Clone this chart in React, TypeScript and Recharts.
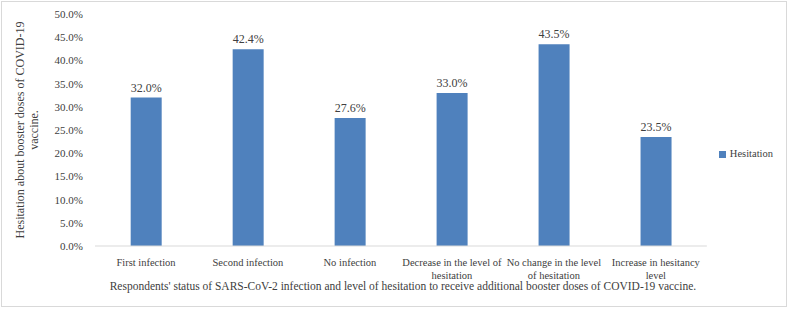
import React from 'react'
import { BarChart, Bar, XAxis, YAxis, Legend, LabelList } from 'recharts'

const categories = [
  'First infection',
  'Second infection',
  'No infection',
  'Decrease in the level of hesitation',
  'No change in the level of hesitation',
  'Increase in hesitancy level',
]
const hesitation = [32.0, 42.4, 27.6, 33.0, 43.5, 23.5]
const yTicks = [0, 5, 10, 15, 20, 25, 30, 35, 40, 45, 50]

const data = categories.map((c, i) => ({ name: c, Hesitation: hesitation[i] }))

const FONT = '"Liberation Serif", "Times New Roman", serif'

function wrap(s: string, max: number) {
  const words = s.split(' ')
  const lines: string[] = []
  let cur = ''
  for (const w of words) {
    const next = cur ? cur + ' ' + w : w
    if (next.length > max && cur) {
      lines.push(cur)
      cur = w
    } else cur = next
  }
  if (cur) lines.push(cur)
  return lines
}

const CatTick = (props: any) => {
  const { x, y, payload } = props
  const lines = wrap(payload.value, 24)
  return (
    <text x={x} y={y} textAnchor="middle" fill="#404040" fontSize={10.5} fontFamily={FONT}>
      {lines.map((l, i) => (
        <tspan key={i} x={x} dy={i === 0 ? 12 : 12.5}>{l}</tspan>
      ))}
    </text>
  )
}

const YTitle = () => (
  <text transform="translate(24,130) rotate(-90)" textAnchor="middle" fill="#404040" fontSize={12} fontFamily={FONT}>
    <tspan x={0} dy={0}>Hesitation about booster doses of COVID-19</tspan>
    <tspan x={0} dy={14}>vaccine.</tspan>
  </text>
)

export default function App() {
  return (
    <div style={{ position: 'absolute', left: 0, top: 0, width: 789, height: 309, background: '#fff' }}>
      <div style={{ position: 'absolute', left: 1, top: 1, width: 784, height: 304, border: '1px solid #d9d9d9' }} />
      <BarChart
        width={789}
        height={309}
        data={data}
        margin={{ top: 14, right: 18, bottom: 0, left: 0 }}
        barCategoryGap="35%"
        style={{ fontFamily: FONT }}
      >
        <XAxis
          dataKey="name"
          interval={0}
          tick={<CatTick />}
          tickLine={false}
          axisLine={{ stroke: '#d9d9d9' }}
          height={63}
          label={{
            value: 'Respondents\' status of SARS-CoV-2 infection and level of hesitation to receive additional booster doses of COVID-19 vaccine.',
            position: 'insideBottom',
            offset: 19,
            dx: 2,
            fill: '#404040',
            fontSize: 11.5,
            fontFamily: FONT,
          }}
        />
        <YAxis
          width={95}
          domain={[0, 50]}
          ticks={yTicks}
          interval={0}
          tickFormatter={(v: number) => v.toFixed(1) + '%'}
          tick={{ fill: '#404040', fontSize: 11, fontFamily: FONT }}
          tickLine={false}
          axisLine={false}
          tickMargin={6}
          label={<YTitle />}
        />
        <Legend
          layout="vertical"
          align="right"
          verticalAlign="middle"
          iconType="square"
          iconSize={7}
          wrapperStyle={{ right: 6, top: 148, fontFamily: FONT, fontSize: 10.5 }}
          formatter={(v: string) => <span style={{ color: '#404040' }}>{v}</span>}
        />
        <Bar dataKey="Hesitation" fill="#4f81bd" isAnimationActive={false}>
          <LabelList
            dataKey="Hesitation"
            position="top"
            offset={6}
            formatter={(v: number) => v.toFixed(1) + '%'}
            style={{ fill: '#404040', fontSize: 12, fontFamily: FONT }}
          />
        </Bar>
      </BarChart>
    </div>
  )
}
